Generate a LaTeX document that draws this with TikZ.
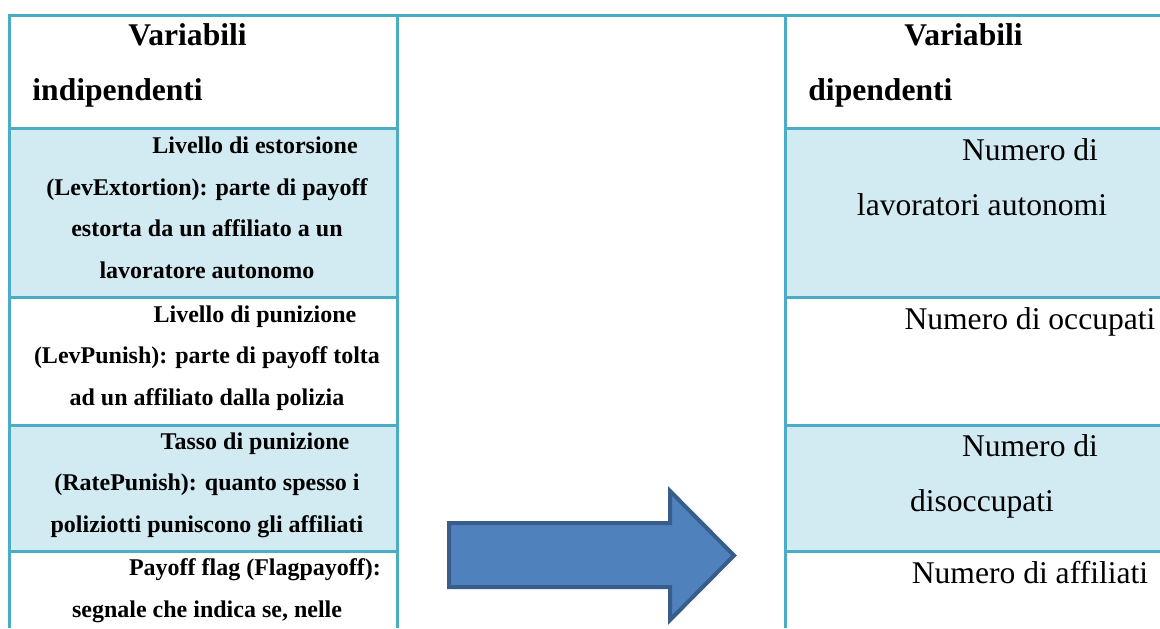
\documentclass[tikz,border=0pt]{standalone}
\usepackage{fontspec}
\setmainfont{Liberation Serif}[Ligatures=NoCommon]
\definecolor{gridline}{HTML}{4BACC6}
\definecolor{bandfill}{HTML}{D2EAF1}
\definecolor{arrowfill}{HTML}{4F81BD}
\definecolor{arrowline}{HTML}{385D8A}
\newcommand{\firstindent}{\hspace*{48pt}}

\begin{document}
\begin{tikzpicture}[x=0.5pt,y=-0.5pt,
  grid line/.style={draw=gridline,line width=1.5pt},
  band/.style={fill=bandfill},
  head text/.style={anchor=base west,align=left,inner sep=0pt,font=\fontsize{15.8}{27.5}\selectfont\bfseries},
  indep text/.style={anchor=base,align=center,inner sep=0pt,font=\fontsize{12}{20.75}\selectfont\bfseries},
  dep text/.style={anchor=base,align=center,inner sep=0pt,font=\fontsize{15.8}{27.5}\selectfont},
  big arrow/.style={fill=arrowfill,draw=arrowline,line width=2pt,line join=miter}]
  \useasboundingbox (0,0) rectangle (1160,628);

  % shaded rows
  \fill[band] (9.5,128.5) rectangle (397.5,297.5);
  \fill[band] (9.5,425) rectangle (397.5,551.5);
  \fill[band] (785.5,128.5) rectangle (1160,297.5);
  \fill[band] (785.5,425) rectangle (1160,551.5);

  % table rules
  \draw[grid line] (8,15) -- (1160,15);
  \draw[grid line] (9.5,13.5) -- (9.5,628);
  \draw[grid line] (397.5,13.5) -- (397.5,628);
  \draw[grid line] (785.5,13.5) -- (785.5,628);
  \foreach \y in {128.5,297.5,425,551.5} {
    \draw[grid line] (9.5,\y) -- (397.5,\y);
    \draw[grid line] (785.5,\y) -- (1160,\y);
  }

  % headers (placed by the baseline of their last line)
  \node[head text] (indep head) at (32,100) {\firstindent Variabili\\indipendenti};
  \node[head text] (dep head) at (808,100) {\firstindent Variabili\\dipendenti};

  % independent variables
  \node[indep text] (lev extortion) at (207,278) {\firstindent Livello di estorsione\\(LevExtortion): parte di payoff\\estorta da un affiliato a un\\lavoratore autonomo};
  \node[indep text] (lev punish) at (207,405) {\firstindent Livello di punizione\\(LevPunish): parte di payoff tolta\\ad un affiliato dalla polizia};
  \node[indep text] (rate punish) at (207,532) {\firstindent Tasso di punizione\\(RatePunish): quanto spesso i\\poliziotti puniscono gli affiliati};
  \node[indep text] (flag payoff) at (207,617) {\firstindent Payoff flag (Flagpayoff):\\segnale che indica se, nelle};

  % dependent variables
  \node[dep text] (n autonomi) at (982,215) {\firstindent Numero di\\lavoratori autonomi};
  \node[dep text] (n occupati) at (982,329) {\firstindent Numero di occupati};
  \node[dep text] (n disoccupati) at (982,511) {\firstindent Numero di\\disoccupati};
  \node[dep text] (n affiliati) at (982,583) {\firstindent Numero di affiliati};

  % arrow
  \draw[big arrow] (449,523) -- (670,523) -- (670,491) -- (734,555.5)
    -- (670,620) -- (670,587) -- (449,587) -- cycle;
\end{tikzpicture}
\end{document}
